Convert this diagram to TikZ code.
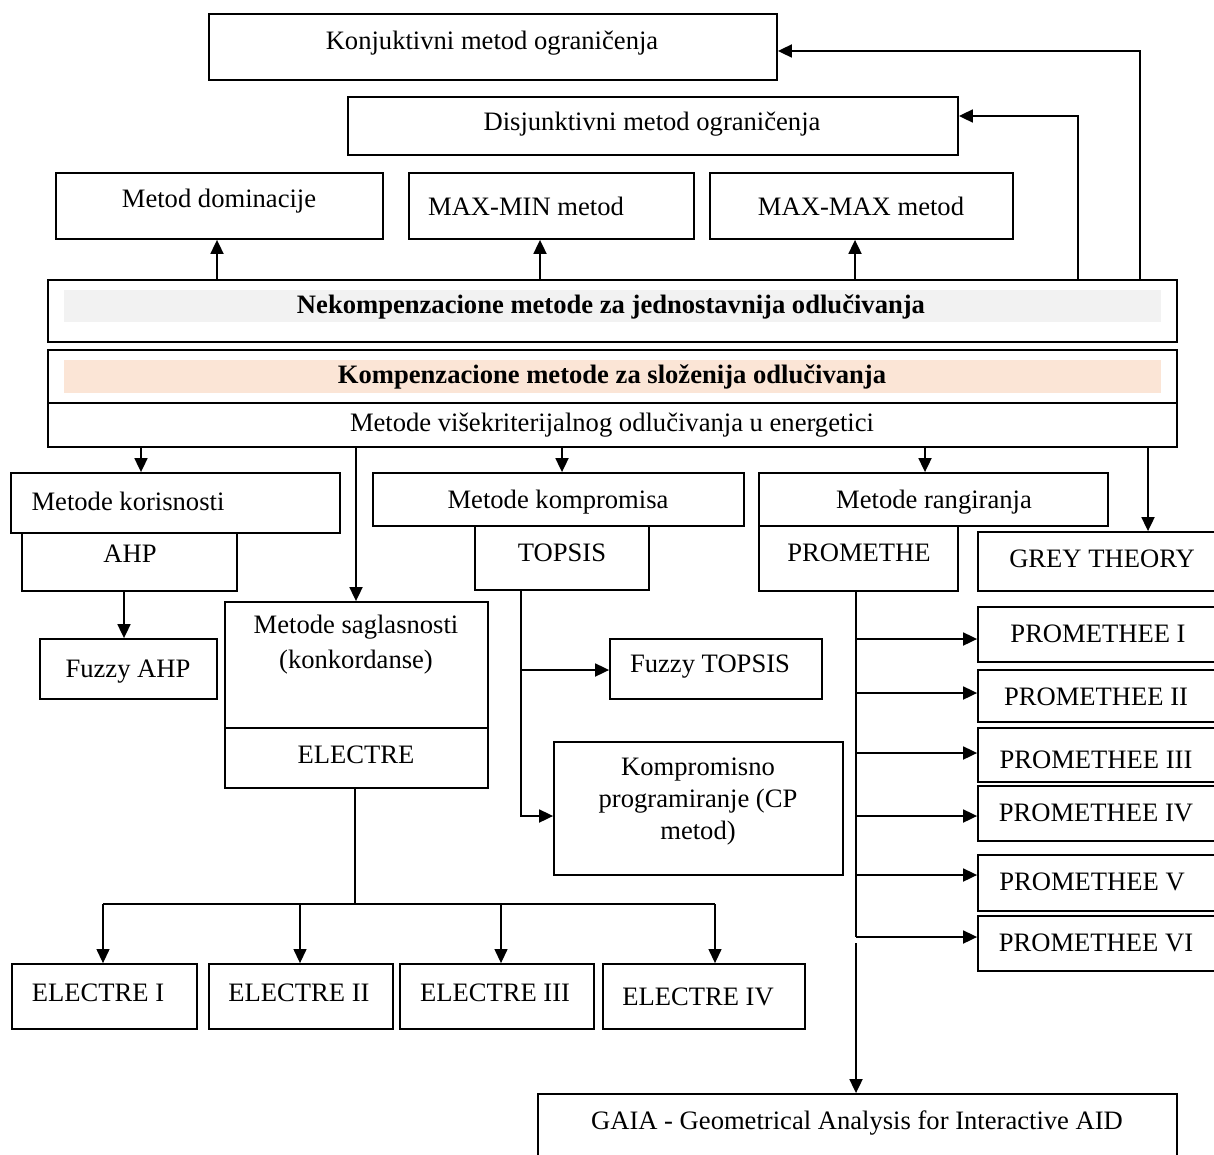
\documentclass[tikz,border=0pt]{standalone}
\usepackage{fontspec}
\setmainfont{Liberation Serif}
\usetikzlibrary{arrows.meta,fit,calc}
\definecolor{barGray}{HTML}{F2F2F2}
\definecolor{barPeach}{HTML}{FBE5D6}
\begin{document}
\begin{tikzpicture}[x=0.5pt,y=-0.5pt,
  box/.style={draw,line width=0.9pt,inner sep=0pt},
  bar/.style={inner sep=0pt,draw=none},
  txt/.style={inner sep=0pt,font=\fontsize{13.3}{16}\selectfont},
  btxt/.style={inner sep=0pt,font=\fontsize{13.3}{16}\selectfont\bfseries},
  arr/.style={line width=0.9pt,-{Triangle[length=7pt,width=6.5pt]}},
  ln/.style={line width=0.9pt},
  tl/.style={line width=0.6pt},
  tarr/.style={line width=0.6pt,-{Triangle[length=7pt,width=6.5pt]}}]
\useasboundingbox (0,0) rectangle (1214,1155);

% ---------- top part ----------
\node[box,fit={(209,14)(777,80)}] (conj) {};
\node[txt] (conj-t) at (492,43) {Konjuktivni metod ograničenja};
\node[box,fit={(348,97)(958,155)}] (disj) {};
\node[txt] (disj-t) at (652,124) {Disjunktivni metod ograničenja};
\node[box,fit={(56,173)(383,239)}] (dom) {};
\node[txt] (dom-t) at (219,201) {Metod dominacije};
\node[box,fit={(409,173)(694,239)}] (mmin) {};
\node[txt] (mmin-t) at (526,206) {MAX-MIN metod};
\node[box,fit={(710,173)(1013,239)}] (mmax) {};
\node[txt] (mmax-t) at (861,206) {MAX-MAX metod};

\node[box,fit={(48,280)(1177,342)}] (nek) {};
\node[bar,fill=barGray,fit={(64,290)(1161,322)}] (nekbar) {};
\node[btxt] (nek-t) at (611,307) {Nekompenzacione metode za jednostavnija odlučivanja};

\node[box,fit={(48,350)(1177,403)}] (komp) {};
\node[bar,fill=barPeach,fit={(64,360)(1161,393)}] (kompbar) {};
\node[btxt] (komp-t) at (612,377) {Kompenzacione metode za složenija odlučivanja};
\node[box,fit={(48,403)(1177,447)}] (mvk) {};
\node[txt] (mvk-t) at (612,425) {Metode višekriterijalnog odlučivanja u energetici};

% ---------- second level ----------
\node[box,fit={(11,473)(340,533)}] (kor) {};
\node[txt] (kor-t) at (128,501) {Metode korisnosti};
\node[box,fit={(22,533)(237,591)}] (ahp) {};
\node[txt] (ahp-t) at (130,554) {AHP};
\node[box,fit={(40,639)(217,699)}] (fahp) {};
\node[txt] (fahp-t) at (128,672) {Fuzzy AHP};

\node[box,fit={(225,602)(488,728)}] (sag) {};
\node[txt,align=center] (sag-t) at (356,645) {Metode saglasnosti\\[1.5pt](konkordanse)};
\node[box,fit={(225,728)(488,788)}] (el) {};
\node[txt] (el-t) at (356,755) {ELECTRE};

\node[box,fit={(373,473)(744,526)}] (kmp) {};
\node[txt] (kmp-t) at (558,502) {Metode kompromisa};
\node[box,fit={(475,526)(649,590)}] (topsis) {};
\node[txt] (topsis-t) at (562,553) {TOPSIS};
\node[box,fit={(610,639)(822,699)}] (ftop) {};
\node[txt] (ftop-t) at (710,667) {Fuzzy TOPSIS};
\node[box,fit={(554,742)(843,875)}] (kp) {};
\node[txt,align=center] (kp-t) at (698,802) {Kompromisno\\programiranje (CP\\metod)};

\node[box,fit={(759,473)(1108,526)}] (rang) {};
\node[txt] (rang-t) at (934,502) {Metode rangiranja};
\node[box,fit={(759,526)(958,591)}] (prom) {};
\node[txt] (prom-t) at (859,553) {PROMETHE};
\node[box,fit={(978,532)(1230,591)}] (grey) {};
\node[txt] (grey-t) at (1102,559) {GREY THEORY};

\node[box,fit={(978,607)(1230,662)}] (pm1) {};
\node[txt] (pm1-t) at (1098,634) {PROMETHEE I};
\node[box,fit={(978,670)(1230,722)}] (pm2) {};
\node[txt] (pm2-t) at (1096,697) {PROMETHEE II};
\node[box,fit={(978,728)(1230,782)}] (pm3) {};
\node[txt] (pm3-t) at (1096,760) {PROMETHEE III};
\node[box,fit={(978,786)(1230,841)}] (pm4) {};
\node[txt] (pm4-t) at (1096,813) {PROMETHEE IV};
\node[box,fit={(978,855)(1230,911)}] (pm5) {};
\node[txt] (pm5-t) at (1092,882) {PROMETHEE V};
\node[box,fit={(978,916)(1230,971)}] (pm6) {};
\node[txt] (pm6-t) at (1096,943) {PROMETHEE VI};

\node[box,fit={(538,1094)(1177,1175)}] (gaia) {};
\node[txt] (gaia-t) at (857,1123) {GAIA - Geometrical Analysis for Interactive AID};

\node[box,fit={(12,964)(197,1029)}] (e1) {};
\node[txt] (e1-t) at (98,993) {ELECTRE I};
\node[box,fit={(209,964)(393,1029)}] (e2) {};
\node[txt] (e2-t) at (299,993) {ELECTRE II};
\node[box,fit={(400,964)(594,1029)}] (e3) {};
\node[txt] (e3-t) at (495,993) {ELECTRE III};
\node[box,fit={(603,964)(805,1029)}] (e4) {};
\node[txt] (e4-t) at (698,997) {ELECTRE IV};

% ---------- helper coordinates ----------
\coordinate (xa) at (1140,0);
\coordinate (xb) at (1078,0);
\coordinate (xd) at (217,0);
\coordinate (xm) at (540,0);
\coordinate (xx) at (855,0);
\coordinate (k1) at (141,0);
\coordinate (k2) at (356,0);
\coordinate (k3) at (562,0);
\coordinate (k4) at (925,0);
\coordinate (k5) at (1148,0);
\coordinate (xh) at (124,0);
\coordinate (xT) at (521,0);
\coordinate (fta) at (521,670);
\coordinate (kpa) at (521,816);
\coordinate (py1) at (856,639);
\coordinate (py2) at (856,693);
\coordinate (py3) at (856,753);
\coordinate (py4) at (856,816);
\coordinate (py5) at (856,875);
\coordinate (py6) at (856,937);
\coordinate (pg) at (856,943);
\coordinate (ej) at (355,904);
\coordinate (e1x) at (103,0);
\coordinate (e2x) at (300,0);
\coordinate (e3x) at (501,0);
\coordinate (e4x) at (715,0);

% ---------- connectors ----------
\draw[arr] (nek.north -| xa) |- ([yshift=-2pt]conj.east);
\draw[arr] (nek.north -| xb) |- ([yshift=5pt]disj.east);
\draw[arr] (nek.north -| xd) -- (dom.south -| xd);
\draw[arr] (nek.north -| xm) -- (mmin.south -| xm);
\draw[arr] (nek.north -| xx) -- (mmax.south -| xx);

\draw[arr] (mvk.south -| k1) -- (kor.north -| k1);
\draw[arr] (mvk.south -| k2) -- (sag.north -| k2);
\draw[arr] (mvk.south -| k3) -- (kmp.north -| k3);
\draw[arr] (mvk.south -| k4) -- (rang.north -| k4);
\draw[arr] (mvk.south -| k5) -- (grey.north -| k5);

\draw[arr] (ahp.south -| xh) -- (fahp.north -| xh);

\draw[arr] (topsis.south -| xT) |- (kp.west |- kpa);
\draw[arr] (fta) -- (ftop.west |- fta);

\draw[ln] (prom.south -| py1) -- (py6);
\foreach \i in {1,...,6}{\draw[arr] (py\i) -- (pm\i.west |- py\i);}
\draw[arr] (pg) -- (gaia.north -| pg);

\draw[tl] (el.south -| ej) -- (ej);
\draw[tl] (ej -| e1x) -- (ej -| e4x);
\draw[tarr] (ej -| e1x) -- (e1.north -| e1x);
\draw[tarr] (ej -| e2x) -- (e2.north -| e2x);
\draw[tarr] (ej -| e3x) -- (e3.north -| e3x);
\draw[tarr] (ej -| e4x) -- (e4.north -| e4x);
\end{tikzpicture}
\end{document}
